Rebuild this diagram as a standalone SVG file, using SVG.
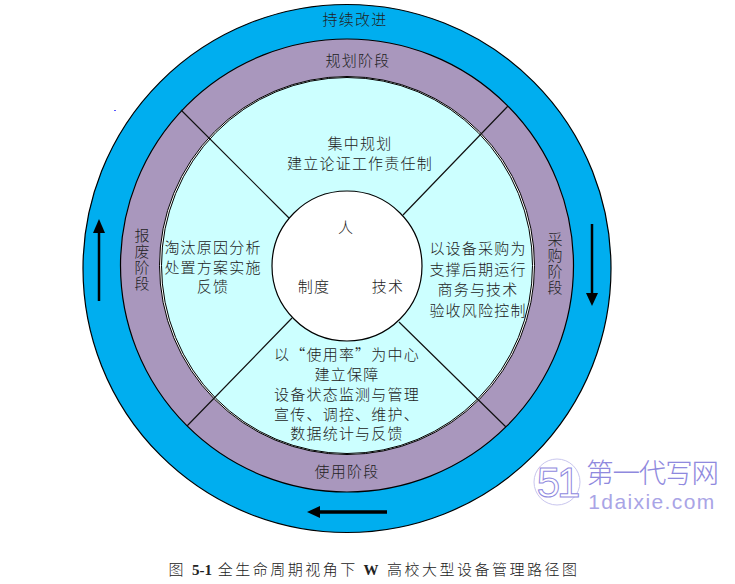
<svg xmlns="http://www.w3.org/2000/svg" width="735" height="584" viewBox="0 0 735 584">
<style>
text{font-family:"Noto Sans CJK SC","Liberation Serif",sans-serif;font-size:15px;fill:#222;text-anchor:middle;font-weight:300;letter-spacing:1.2px}
.v{writing-mode:vertical-rl}
.s{stroke:#000;stroke-width:1.2}
.l{stroke:#111;stroke-width:1.2;fill:none}
.a{stroke:#000;fill:none}
.h{fill:#000}
.w{fill:#8f89de}
</style>
<rect width="735" height="584" fill="#fff"/>
<g id="ring-improve"><circle class="s" cx="347" cy="268.5" r="264" fill="#00aeef"/><text x="355" y="25">持续改进</text></g>
<g id="ring-phases"><circle class="s" cx="347" cy="265.5" r="226.500" fill="#a997bd"/>
<text x="358" y="66">规划阶段</text>
<text class="v" x="142" y="260">报废阶段</text>
<text class="v" x="555" y="264">采购阶段</text>
<text x="347" y="477">使用阶段</text></g>
<g id="disc-tasks"><ellipse cx="347" cy="265.5" rx="187.500" ry="189" fill="#fff" stroke="#000" stroke-width="1"/><ellipse cx="347" cy="265.5" rx="185.500" ry="188" fill="#ccffff" stroke="#000" stroke-width="1"/>
<text x="360" y="149">集中规划</text><text x="360" y="169">建立论证工作责任制</text>
<text x="213" y="253"><tspan x="213">淘汰原因分析</tspan><tspan x="213" dy="19.500">处置方案实施</tspan><tspan x="213" dy="19.500">反馈</tspan></text>
<text x="478" y="254"><tspan x="478">以设备采购为</tspan><tspan x="478" dy="20.500">支撑后期运行</tspan><tspan x="478" dy="20.500">商务与技术</tspan><tspan x="478" dy="20.500">验收风险控制</tspan></text>
<text x="347" y="360"><tspan x="347">以“使用率”为中心</tspan><tspan x="347" dy="20">建立保障</tspan><tspan x="347" dy="20">设备状态监测与管理</tspan><tspan x="347" dy="19.500">宣传、调控、维护、</tspan><tspan x="347" dy="19.500">数据统计与反馈</tspan></text></g>
<g id="connectors">
<path class="l" d="M181 110L289 218M508 106L403 215M187 426L292 318M506 427L399 322"/>
<path class="a" stroke-width="2.500" d="M99 232V301"/><path class="h" d="M99 219L93 233H105Z"/>
<path class="a" stroke-width="2.500" d="M592 224V294"/><path class="h" d="M592 306L586 293H598Z"/>
<path class="a" stroke-width="3.500" d="M318 512H387"/><path class="h" d="M307 512L320 506V518Z"/>
</g>
<g id="hub"><circle cx="347" cy="266" r="75" fill="#fff" stroke="#000" stroke-width="1.2"/>
<text x="346" y="233">人</text><text x="314" y="292">制度</text><text x="388" y="292">技术</text></g>
<g id="watermark">
<circle cx="557" cy="482" r="23" fill="none" stroke="#c9c6ee" stroke-width="1"/>
<text x="557" y="497" style="font-family:'Liberation Sans',sans-serif;font-size:42px;font-weight:400;fill:#fff;stroke:#8f89de;stroke-width:1;letter-spacing:-3px">51</text>
<text x="652" y="483" class="w" style="font-size:27.500px;letter-spacing:-1.200px">第一代写网</text>
<text x="652" y="509" class="w" style="font-family:'Liberation Sans',sans-serif;font-size:21px;letter-spacing:1.400px;fill:#a9a4e6">1daixie.com</text>
</g>
<rect x="114" y="110" width="2" height="1" fill="#55f"/>
<text x="374" y="575" style="letter-spacing:2.500px">图 <tspan style="font-family:'Liberation Serif',serif;font-weight:700;letter-spacing:0">5-1</tspan> 全生命周期视角下 <tspan style="font-family:'Liberation Serif',serif;font-weight:700">W</tspan> 高校大型设备管理路径图</text>
</svg>
